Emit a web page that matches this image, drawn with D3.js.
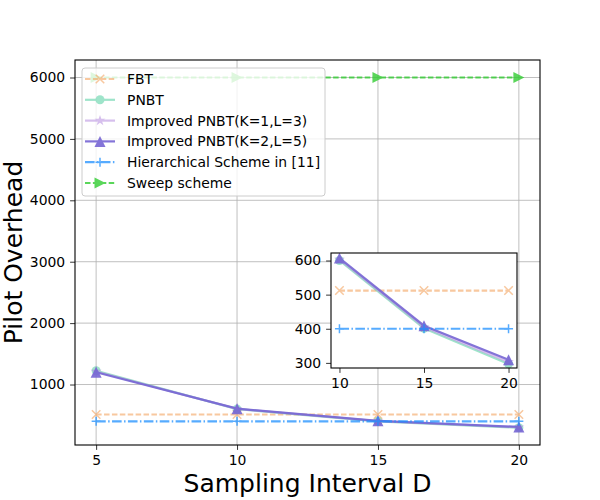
<!DOCTYPE html>
<html>
<head>
<meta charset="utf-8">
<script src="https://cdn.jsdelivr.net/npm/d3@7"></script>
<style>
  body { margin: 0; background: #fff; }
  svg { font-family: "DejaVu Sans", sans-serif; }
</style>
</head>
<body>
<svg id="chart"></svg>
<script>
// data
const samplingD = [5, 10, 15, 20];
const fbt = [512, 512, 512, 512];
const pnbt = [1225, 600, 401, 297];
const improved1 = [1212, 603, 405, 303];
const improved2 = [1200, 607, 409, 309];
const hierarchical = [400, 400, 400, 400];
const sweep = [6000, 6000, 6000, 6000];
const seriesNames = ["FBT", "PNBT", "Improved PNBT(K=1,L=3)", "Improved PNBT(K=2,L=5)", "Hierarchical Scheme in [11]", "Sweep scheme"];
const mainYTicks = [1000, 2000, 3000, 4000, 5000, 6000];
const insetYTicks = [300, 400, 500, 600];
const insetXTicks = [10, 15, 20];

const width = 600;
const height = 500;
const svg = d3.select("#chart").attr("width", width).attr("height", height);

const series = [
  { name: seriesNames[0], values: fbt, color: "#f4a460", opacity: 0.6, dash: "5.5,2.4", marker: "x", size: 8.5 },
  { name: seriesNames[1], values: pnbt, color: "#5fd3a8", opacity: 0.6, dash: null, marker: "circle", size: 9 },
  { name: seriesNames[2], values: improved1, color: "#b58ce0", opacity: 0.55, dash: null, marker: "star", size: 9 },
  { name: seriesNames[3], values: improved2, color: "#7766d4", opacity: 0.9, dash: null, marker: "tri", size: 11 },
  { name: seriesNames[4], values: hierarchical, color: "#1e90ff", opacity: 0.75, dash: "9.6,2.4,1.5,2.4", marker: "plus", size: 9 },
  { name: seriesNames[5], values: sweep, color: "#32cd32", opacity: 0.8, dash: "5.5,2.4", marker: "right", size: 11 }
];

// draw a marker at (0,0)
const drawMarker = (g, s) => {
  const r = s.size / 2;
  if (s.marker === "x") {
    g.append("path").attr("d", `M${-r},${-r}L${r},${r}M${-r},${r}L${r},${-r}`)
      .attr("stroke", s.color).attr("stroke-width", 1.5).attr("fill", "none");
  } else if (s.marker === "plus") {
    g.append("path").attr("d", `M${-r},0L${r},0M0,${-r}L0,${r}`)
      .attr("stroke", s.color).attr("stroke-width", 1.5).attr("fill", "none");
  } else if (s.marker === "circle") {
    g.append("circle").attr("r", r).attr("fill", s.color);
  } else if (s.marker === "star") {
    g.append("path").attr("d", d3.symbol(d3.symbolStar, s.size * s.size * 0.45)()).attr("fill", s.color);
  } else if (s.marker === "tri") {
    g.append("path").attr("d", `M0,${-r}L${r},${r}L${-r},${r}Z`).attr("fill", s.color);
  } else if (s.marker === "right") {
    g.append("path").attr("d", `M${r},0L${-r},${-r}L${-r},${r}Z`).attr("fill", s.color);
  }
};

const drawPanel = (g, xScale, yScale, xs, clipId, w, h) => {
  g.append("clipPath").attr("id", clipId).append("rect").attr("width", w).attr("height", h);
  const plot = g.append("g").attr("clip-path", `url(#${clipId})`);
  const line = d3.line().x((d) => xScale(d[0])).y((d) => yScale(d[1]));
  series.forEach((s) => {
    const pts = samplingD.map((d, i) => [d, s.values[i]]).filter((p) => xs.includes(p[0]));
    const sg = plot.append("g").attr("opacity", s.opacity);
    sg.append("path").datum(pts).attr("d", line)
      .attr("fill", "none").attr("stroke", s.color).attr("stroke-width", 2.2)
      .attr("stroke-dasharray", s.dash);
    pts.forEach((p) => {
      const m = sg.append("g").attr("transform", `translate(${xScale(p[0])},${yScale(p[1])})`);
      drawMarker(m, s);
    });
  });
};

// ---- main axes ----
const mL = 75, mR = 540, mT = 60, mB = 445;
const x = d3.scaleLinear().domain([4.25, 20.75]).range([mL, mR]);
const y = d3.scaleLinear().domain([15, 6285]).range([mB, mT]);

const grid = svg.append("g");
samplingD.forEach((d) => {
  grid.append("line").attr("x1", x(d)).attr("x2", x(d)).attr("y1", mT).attr("y2", mB)
    .attr("stroke", "#b0b0b0").attr("stroke-width", 0.8);
});
mainYTicks.forEach((d) => {
  grid.append("line").attr("x1", mL).attr("x2", mR).attr("y1", y(d)).attr("y2", y(d))
    .attr("stroke", "#b0b0b0").attr("stroke-width", 0.8);
});

const main = svg.append("g").attr("transform", `translate(${mL},${mT})`);
const xIn = d3.scaleLinear().domain(x.domain()).range([0, mR - mL]);
const yIn = d3.scaleLinear().domain(y.domain()).range([mB - mT, 0]);
drawPanel(main, xIn, yIn, samplingD, "clipMain", mR - mL, mB - mT);

const styleAxis = (g) => {
  g.selectAll("text").attr("font-size", 13.9).attr("fill", "#000").attr("font-family", "DejaVu Sans");
  g.selectAll("line").attr("stroke", "#000").attr("stroke-width", 0.8);
  g.select(".domain").remove();
};

svg.append("g").attr("transform", `translate(0,${mB})`)
  .call(d3.axisBottom(x).tickValues(samplingD).tickSize(4.9).tickPadding(4.9).tickFormat(d3.format("d")))
  .call(styleAxis);
svg.append("g").attr("transform", `translate(${mL},0)`)
  .call(d3.axisLeft(y).tickValues(mainYTicks).tickSize(4.9).tickPadding(4.9).tickFormat(d3.format("d")))
  .call(styleAxis);

svg.append("rect").attr("x", mL).attr("y", mT).attr("width", mR - mL).attr("height", mB - mT)
  .attr("fill", "none").attr("stroke", "#000").attr("stroke-width", 1.1);

// axis titles
svg.append("text").attr("x", (mL + mR) / 2).attr("y", 492).attr("text-anchor", "middle")
  .attr("font-size", 25).text("Sampling Interval D");
svg.append("text").attr("transform", `translate(${22},${(mT + mB) / 2}) rotate(-90)`)
  .attr("text-anchor", "middle").attr("font-size", 25).text("Pilot Overhead");

// ---- legend ----
const legend = svg.append("g").attr("transform", "translate(82,68)");
legend.append("rect").attr("width", 243).attr("height", 128).attr("rx", 3)
  .attr("fill", "#fff").attr("fill-opacity", 0.8).attr("stroke", "#cccccc").attr("stroke-width", 1);
series.forEach((s, i) => {
  const row = legend.append("g").attr("transform", `translate(0,${11 + i * 20.8})`);
  const hg = row.append("g").attr("opacity", s.opacity);
  hg.append("line").attr("x1", 3).attr("x2", 33).attr("y1", 0).attr("y2", 0)
    .attr("stroke", s.color).attr("stroke-width", 2.2).attr("stroke-dasharray", s.dash);
  drawMarker(hg.append("g").attr("transform", "translate(18,0)"), s);
  row.append("text").attr("x", 45).attr("y", 0).attr("dy", "0.36em")
    .attr("font-size", 13.9).text(s.name);
});

// ---- inset ----
const iL = 331, iR = 517, iT = 253, iB = 368;
const ix = d3.scaleLinear().domain([9.5, 20.5]).range([iL, iR]);
const iy = d3.scaleLinear().domain([285, 622]).range([iB, iT]);
svg.append("rect").attr("x", iL).attr("y", iT).attr("width", iR - iL).attr("height", iB - iT).attr("fill", "#fff");
const inset = svg.append("g").attr("transform", `translate(${iL},${iT})`);
const ixIn = d3.scaleLinear().domain(ix.domain()).range([0, iR - iL]);
const iyIn = d3.scaleLinear().domain(iy.domain()).range([iB - iT, 0]);
drawPanel(inset, ixIn, iyIn, insetXTicks, "clipInset", iR - iL, iB - iT);
svg.append("g").attr("transform", `translate(0,${iB})`)
  .call(d3.axisBottom(ix).tickValues(insetXTicks).tickSize(4.9).tickPadding(4.9).tickFormat(d3.format("d")))
  .call(styleAxis);
svg.append("g").attr("transform", `translate(${iL},0)`)
  .call(d3.axisLeft(iy).tickValues(insetYTicks).tickSize(4.9).tickPadding(4.9).tickFormat(d3.format("d")))
  .call(styleAxis);
svg.append("rect").attr("x", iL).attr("y", iT).attr("width", iR - iL).attr("height", iB - iT)
  .attr("fill", "none").attr("stroke", "#000").attr("stroke-width", 1.1);
</script>
</body>
</html>
